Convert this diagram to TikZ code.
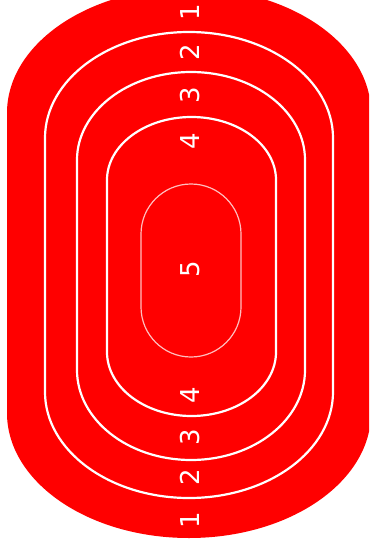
\documentclass[tikz,border=0pt]{standalone}
\usepackage{fontspec}
\setmainfont{DejaVu Sans}
\definecolor{tred}{RGB}{255,0,0}
\definecolor{innerline}{RGB}{255,190,190}
\tikzset{
  ringline/.style={draw=white, line width=2.2pt},
  lbl/.style={text=white, font=\fontsize{26}{26}\selectfont, rotate=90, inner sep=0pt},
}
\begin{document}
\begin{tikzpicture}[x=1pt,y=-1pt]
\useasboundingbox (0,0) rectangle (369,548);
\begin{scope}
\clip (0,0) rectangle (369,548);
% outer red stadium
\fill[tred] (7,113) arc[start angle=180, end angle=360, x radius=182, y radius=125]
  -- (371,413) arc[start angle=0, end angle=180, x radius=182, y radius=125] -- cycle;
\end{scope}
% ring 2
\draw[ringline] (45,138) arc[start angle=180, end angle=360, x radius=144, y radius=106]
  -- (333,392) arc[start angle=0, end angle=180, x radius=144, y radius=106] -- cycle;
% ring 3
\draw[ringline] (77,160) arc[start angle=180, end angle=360, x radius=114, y radius=88]
  -- (305,370) arc[start angle=0, end angle=180, x radius=114, y radius=90] -- cycle;
% ring 4
\draw[ringline] (107,180) arc[start angle=180, end angle=360, x radius=84.5, y radius=63]
  -- (276,352) arc[start angle=0, end angle=180, x radius=84.5, y radius=64] -- cycle;
% inner
\draw[draw=innerline, line width=1.2pt] (141,234) arc[start angle=180, end angle=360, radius=50]
  -- (241,307) arc[start angle=0, end angle=180, radius=50] -- cycle;
% labels
\node[lbl] (t1) at (190,12) {1};
\node[lbl] (t2) at (190,52) {2};
\node[lbl] (t3) at (190,95) {3};
\node[lbl] (t4) at (190,141) {4};
\node[lbl] (c5) at (190,269) {5};
\node[lbl] (b4) at (190,395) {4};
\node[lbl] (b3) at (190,437) {3};
\node[lbl] (b2) at (190,477) {2};
\node[lbl] (b1) at (190,520) {1};
\end{tikzpicture}
\end{document}
